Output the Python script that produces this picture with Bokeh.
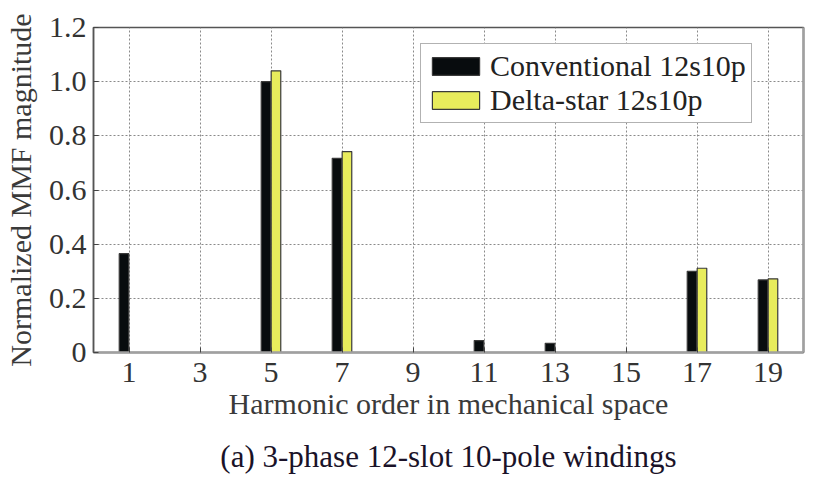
from bokeh.plotting import figure
from bokeh.models import ColumnDataSource, Range1d, LinearAxis, FixedTicker, Legend, LegendItem, Title
from bokeh.transform import dodge
from bokeh.embed import file_html
from bokeh.resources import INLINE

harmonics = [1, 3, 5, 7, 9, 11, 13, 15, 17, 19]
conventional = [0.365, 0.0, 1.0, 0.717, 0.0, 0.044, 0.034, 0.0, 0.300, 0.268]
delta_star = [0.0, 0.0, 1.04, 0.742, 0.0, 0.0, 0.0, 0.0, 0.311, 0.272]
y_ticks = [0, 0.2, 0.4, 0.6, 0.8, 1.0, 1.2]
y_tick_labels = ["0", "0.2", "0.4", "0.6", "0.8", "1.0", "1.2"]

FONT = "Liberation Serif"

src = ColumnDataSource(dict(h=harmonics, conv=conventional, ds=delta_star))

p = figure(width=808, height=490, output_backend="svg", toolbar_location=None,
           x_range=Range1d(0, 20), y_range=Range1d(0, 1.2),
           min_border_left=93, min_border_top=27, min_border_right=5, min_border_bottom=138)
p.background_fill_color = "white"
p.border_fill_color = "white"
p.outline_line_color = "#555555"
p.outline_line_width = 1.5

r1 = p.vbar(x=dodge("h", -0.14, range=p.x_range), top="conv", width=0.27, source=src,
            fill_color="#080c0e", line_color="#3a3a3a", line_width=1.2)
r2 = p.vbar(x=dodge("h", 0.14, range=p.x_range), top="ds", width=0.27, source=src,
            fill_color="#e8ec5c", line_color="#3a3a3a", line_width=1.2)

p.xaxis.ticker = FixedTicker(ticks=harmonics)
p.yaxis.ticker = FixedTicker(ticks=y_ticks)
p.yaxis.major_label_overrides = {t: l for t, l in zip(y_ticks, y_tick_labels)}

for ax in (p.xaxis[0], p.yaxis[0]):
    ax.major_label_text_font = FONT
    ax.major_label_text_font_size = "30px"
    ax.major_label_text_color = "#333333"
    ax.axis_label_text_font = FONT
    ax.axis_label_text_font_size = "30px"
    ax.axis_label_text_font_style = "normal"
    ax.axis_label_text_color = "#3a3a3a"
    ax.major_tick_in = 5
    ax.major_tick_out = 0
    ax.minor_tick_line_color = None
    ax.major_tick_line_color = "#444444"

p.xaxis.axis_label = "Harmonic order in mechanical space"
p.yaxis.axis_label = "Normalized MMF magnitude"
p.xaxis.axis_line_color = "#a0a0a0"
p.xaxis.axis_line_width = 2.5
p.xaxis.major_label_standoff = 10
p.xaxis.axis_label_standoff = 2
p.yaxis.axis_line_color = "#555555"
p.yaxis.axis_line_width = 1.5
p.yaxis.major_label_standoff = 7
p.yaxis.axis_label_standoff = 9

right = LinearAxis(major_label_text_font_size="0px", major_tick_line_color=None,
                   minor_tick_line_color=None, axis_line_color="#a0a0a0", axis_line_width=2.5)
right.ticker = FixedTicker(ticks=[])
p.add_layout(right, "right")

p.xgrid.grid_line_color = "#8a8a8a"
p.xgrid.grid_line_dash = "2 2"
p.xgrid.grid_line_width = 1
p.ygrid.grid_line_color = "#8a8a8a"
p.ygrid.grid_line_dash = "2 2"
p.ygrid.grid_line_width = 1

legend = Legend(items=[LegendItem(label="Conventional 12s10p", renderers=[r1]),
                       LegendItem(label="Delta-star 12s10p", renderers=[r2])],
                location=(327, 229))
legend.label_text_font = FONT
legend.label_text_font_size = "30px"
legend.label_text_color = "#222222"
legend.glyph_width = 59
legend.glyph_height = 22
legend.label_standoff = 5
legend.padding = 5
legend.spacing = 0
legend.margin = 0
legend.border_line_color = "#666666"
legend.border_line_width = 1.5
legend.background_fill_alpha = 1.0
legend.label_height = 22
p.add_layout(legend, "center")

caption = Title(text="(a) 3-phase 12-slot 10-pole windings", align="center",
                text_font=FONT, text_font_size="31px", text_font_style="normal",
                text_color="#1a1228", standoff=28)
p.add_layout(caption, "below")

open("out.html", "w").write(file_html(p, INLINE))
